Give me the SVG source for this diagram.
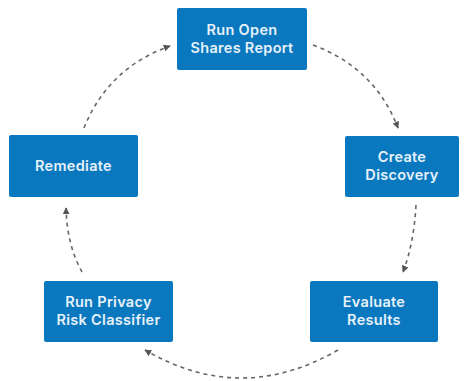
<svg xmlns="http://www.w3.org/2000/svg" width="468" height="381" viewBox="0 0 468 381">
<style>
.box{fill:#0a78be;}
.lbl{font-family:Inter,"Open Sans","Liberation Sans",sans-serif;font-weight:600;font-size:14.5px;letter-spacing:0.3px;fill:#e6f1fa;text-anchor:middle;}
.con{fill:none;stroke:#666;stroke-width:1.6;stroke-dasharray:4 4;}
</style>
<defs>
<marker id="ah" viewBox="0 0 10 10" refX="9" refY="5" markerWidth="7" markerHeight="7" markerUnits="userSpaceOnUse" orient="auto">
<path d="M0,0 L10,5 L0,10 z" fill="#555"/>
</marker>
</defs>
<rect width="468" height="381" fill="#fff"/>
<g id="connectors">
<path class="con" d="M313,45 Q375,68 398,128" marker-end="url(#ah)"/>
<path class="con" d="M416,205 Q414,243 403,272" marker-end="url(#ah)"/>
<path class="con" d="M338,350 Q241,406 145,350" marker-end="url(#ah)"/>
<path class="con" d="M82,272 Q67,245 66,208" marker-end="url(#ah)"/>
<path class="con" d="M84,128 Q108,68 170,46" marker-end="url(#ah)"/>
</g>
<g id="run-open-shares">
<rect class="box" x="177" y="8" width="130" height="62" rx="2"/>
<text class="lbl" x="242" y="35">Run Open</text>
<text class="lbl" x="242" y="53">Shares Report</text>
</g>
<g id="create-discovery">
<rect class="box" x="345" y="136" width="114" height="61" rx="2"/>
<text class="lbl" x="402" y="162">Create</text>
<text class="lbl" x="402" y="180">Discovery</text>
</g>
<g id="evaluate-results">
<rect class="box" x="310" y="281" width="128" height="61" rx="2"/>
<text class="lbl" x="374" y="307">Evaluate</text>
<text class="lbl" x="374" y="325">Results</text>
</g>
<g id="run-privacy">
<rect class="box" x="44" y="281" width="129" height="61" rx="2"/>
<text class="lbl" x="108.5" y="307">Run Privacy</text>
<text class="lbl" x="108.5" y="325">Risk Classifier</text>
</g>
<g id="remediate">
<rect class="box" x="9" y="135" width="129" height="62" rx="2"/>
<text class="lbl" x="73.5" y="171">Remediate</text>
</g>
</svg>
